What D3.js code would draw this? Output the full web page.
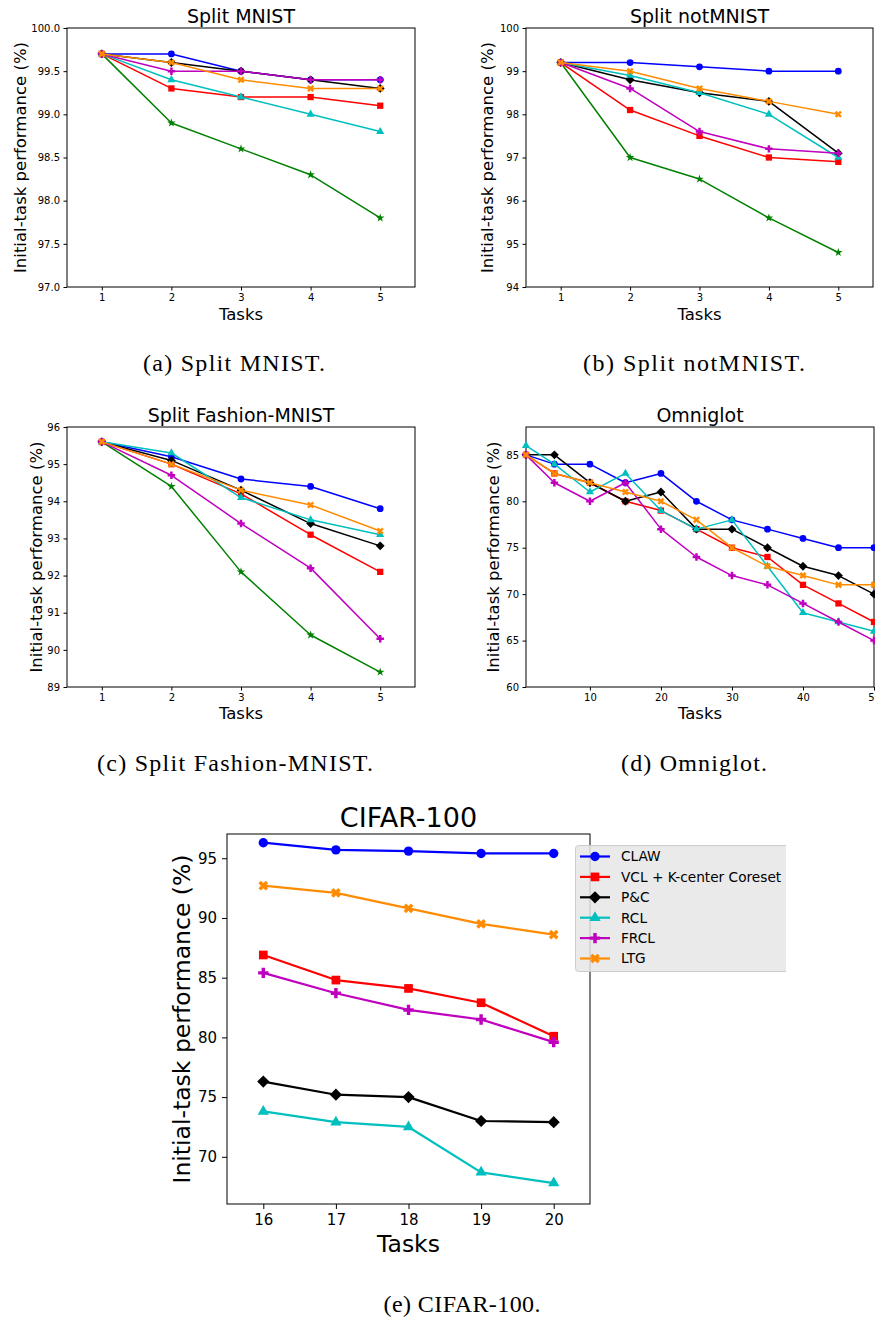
<!DOCTYPE html>
<html>
<head>
<meta charset="utf-8">
<script src="https://cdn.jsdelivr.net/npm/d3@7"></script>
<style>
  body { margin: 0; background: #fff; }
  svg { display: block; }
  text { font-family: "DejaVu Sans", sans-serif; fill: #000; }
  .caption { font-family: "Liberation Serif", serif; }
</style>
</head>
<body>
<svg id="chart" width="875" height="1321"></svg>
<script>
// ---- data ----
const fiveTasks = [1, 2, 3, 4, 5]
const omniglotTasks = [1, 5, 10, 15, 20, 25, 30, 35, 40, 45, 50]
const cifarTasks = [16, 17, 18, 19, 20]

const methodNames = ['CLAW', 'VCL + K-center Coreset', 'P&C', 'RCL', 'FRCL', 'LTG']

// Split MNIST
const mnistGreen = [99.7, 98.9, 98.6, 98.3, 97.8]
const mnistClaw = [99.7, 99.7, 99.5, 99.4, 99.4]
const mnistVcl = [99.7, 99.3, 99.2, 99.2, 99.1]
const mnistPnc = [99.7, 99.6, 99.5, 99.4, 99.3]
const mnistRcl = [99.7, 99.4, 99.2, 99.0, 98.8]
const mnistFrcl = [99.7, 99.5, 99.5, 99.4, 99.4]
const mnistLtg = [99.7, 99.6, 99.4, 99.3, 99.3]

// Split notMNIST
const notmnistGreen = [99.2, 97.0, 96.5, 95.6, 94.8]
const notmnistClaw = [99.2, 99.2, 99.1, 99.0, 99.0]
const notmnistVcl = [99.2, 98.1, 97.5, 97.0, 96.9]
const notmnistPnc = [99.2, 98.8, 98.5, 98.3, 97.1]
const notmnistRcl = [99.2, 98.9, 98.5, 98.0, 97.0]
const notmnistFrcl = [99.2, 98.6, 97.6, 97.2, 97.1]
const notmnistLtg = [99.2, 99.0, 98.6, 98.3, 98.0]

// Split Fashion-MNIST
const fashionGreen = [95.6, 94.4, 92.1, 90.4, 89.4]
const fashionClaw = [95.6, 95.2, 94.6, 94.4, 93.8]
const fashionVcl = [95.6, 95.0, 94.2, 93.1, 92.1]
const fashionPnc = [95.6, 95.1, 94.3, 93.4, 92.8]
const fashionRcl = [95.6, 95.3, 94.1, 93.5, 93.1]
const fashionFrcl = [95.6, 94.7, 93.4, 92.2, 90.3]
const fashionLtg = [95.6, 95.0, 94.3, 93.9, 93.2]

// Omniglot
const omniClaw = [85, 84, 84, 82, 83, 80, 78, 77, 76, 75, 75]
const omniVcl = [85, 83, 82, 80, 79, 77, 75, 74, 71, 69, 67]
const omniPnc = [85, 85, 82, 80, 81, 77, 77, 75, 73, 72, 70]
const omniRcl = [86, 84, 81, 83, 79, 77, 78, 73, 68, 67, 66]
const omniFrcl = [85, 82, 80, 82, 77, 74, 72, 71, 69, 67, 65]
const omniLtg = [85, 83, 82, 81, 80, 78, 75, 73, 72, 71, 71]

// CIFAR-100
const cifarClaw = [96.3, 95.7, 95.6, 95.4, 95.4]
const cifarVcl = [86.9, 84.8, 84.1, 82.9, 80.1]
const cifarPnc = [76.3, 75.2, 75.0, 73.0, 72.9]
const cifarRcl = [73.8, 72.9, 72.5, 68.7, 67.8]
const cifarFrcl = [85.4, 83.7, 82.3, 81.5, 79.6]
const cifarLtg = [92.7, 92.1, 90.8, 89.5, 88.6]

// tick labels
const mnistYTicks = [97.0, 97.5, 98.0, 98.5, 99.0, 99.5, 100.0]
const notmnistYTicks = [94, 95, 96, 97, 98, 99, 100]
const fashionYTicks = [89, 90, 91, 92, 93, 94, 95, 96]
const omniXTicks = [10, 20, 30, 40, 50]
const omniYTicks = [60, 65, 70, 75, 80, 85]
const cifarYTicks = [70, 75, 80, 85, 90, 95]

// ---- styles ----
const styles = {
  green: { color: '#008000', marker: 'star' },
  claw: { color: '#0000ff', marker: 'circle' },
  vcl: { color: '#ff0000', marker: 'square' },
  pnc: { color: '#000000', marker: 'diamond' },
  rcl: { color: '#00bfbf', marker: 'triangle' },
  frcl: { color: '#bf00bf', marker: 'plus' },
  ltg: { color: '#ff8c00', marker: 'x' },
}
const legendKeys = ['claw', 'vcl', 'pnc', 'rcl', 'frcl', 'ltg']

const svg = d3.select('#chart')

function markerPath(type, r) {
  if (type === 'diamond') {
    const a = r * 1.3
    return `M0,${-a}L${a},0L0,${a}L${-a},0Z`
  }
  const sym = d3.symbol()
  if (type === 'circle') sym.type(d3.symbolCircle).size(Math.PI * r * r)
  if (type === 'square') sym.type(d3.symbolSquare).size(Math.pow(r * 1.85, 2))
  if (type === 'triangle') sym.type(d3.symbolTriangle).size(0.433 * Math.pow(r * 2.4, 2))
  if (type === 'plus' || type === 'x') sym.type(d3.symbolCross).size(5 * Math.pow(r * 2.2 / 3, 2))
  if (type === 'star') sym.type(d3.symbolStar).size(r * r * 2.2)
  return sym()
}

function drawPanel(p) {
  const x = d3.scaleLinear().domain(p.xDomain).range([p.left, p.right])
  const y = d3.scaleLinear().domain(p.yDomain).range([p.bottom, p.top])
  const g = svg.append('g')

  // frame
  g.append('rect')
    .attr('x', p.left).attr('y', p.top)
    .attr('width', p.right - p.left).attr('height', p.bottom - p.top)
    .attr('fill', 'none').attr('stroke', '#000').attr('stroke-width', 1)

  const xAxis = d3.axisBottom(x).tickValues(p.xTicks).tickFormat(d3.format('d'))
    .tickSizeInner(p.tick).tickSizeOuter(0).tickPadding(p.pad)
  const yAxis = d3.axisLeft(y).tickValues(p.yTicks).tickFormat(d3.format(p.yFormat))
    .tickSizeInner(p.tick).tickSizeOuter(0).tickPadding(p.pad)

  const xg = g.append('g').attr('transform', `translate(0,${p.bottom})`).call(xAxis)
  const yg = g.append('g').attr('transform', `translate(${p.left},0)`).call(yAxis)
  ;[xg, yg].forEach(a => {
    a.select('.domain').remove()
    a.selectAll('line').attr('stroke', '#000')
    a.selectAll('text').style('font-size', p.tickFont + 'px').attr('fill', '#000')
      .style('font-family', '"DejaVu Sans", sans-serif')
  })

  // series: line then markers, one series at a time
  p.series.forEach(s => {
    const st = styles[s.key]
    const pts = p.tasks.map((t, i) => [t, s.values[i]])
    g.append('path')
      .attr('d', d3.line().x(d => x(d[0])).y(d => y(d[1]))(pts))
      .attr('fill', 'none').attr('stroke', st.color)
      .attr('stroke-width', p.lw).attr('stroke-linejoin', 'round')
    const r = st.marker === 'star' ? p.ms * 0.95 : p.ms
    g.selectAll(null).data(pts).enter().append('path')
      .attr('transform', d => `translate(${x(d[0])},${y(d[1])})` + (st.marker === 'x' ? ' rotate(45)' : ''))
      .attr('d', markerPath(st.marker, r))
      .attr('fill', st.color)
  })

  // texts
  const cx = (p.left + p.right) / 2
  g.append('text').attr('x', cx).attr('y', p.titleY)
    .attr('text-anchor', 'middle').style('font-size', p.titleFont + 'px').text(p.title)
  g.append('text').attr('x', cx).attr('y', p.xlabelY)
    .attr('text-anchor', 'middle').style('font-size', p.labelFont + 'px').text('Tasks')
  g.append('text')
    .attr('transform', `translate(${p.ylabelX},${(p.top + p.bottom) / 2}) rotate(-90)`)
    .attr('text-anchor', 'middle').style('font-size', p.labelFont + 'px')
    .text('Initial-task performance (%)')

  return { x, y, g }
}

const small = { tick: 3.5, pad: 3.5, tickFont: 10, titleFont: 19, labelFont: 16.5, lw: 1.5, ms: 3.4 }

drawPanel({
  ...small, left: 67, right: 415, top: 28, bottom: 287,
  xDomain: [0.5, 5.5], yDomain: [97, 100], xTicks: fiveTasks, yTicks: mnistYTicks, yFormat: '.1f',
  title: 'Split MNIST', titleY: 23, xlabelY: 320, ylabelX: 25.5,
  tasks: fiveTasks,
  series: [
    { key: 'green', values: mnistGreen }, { key: 'claw', values: mnistClaw },
    { key: 'vcl', values: mnistVcl }, { key: 'pnc', values: mnistPnc },
    { key: 'rcl', values: mnistRcl }, { key: 'frcl', values: mnistFrcl },
    { key: 'ltg', values: mnistLtg },
  ],
})

drawPanel({
  ...small, left: 526, right: 873, top: 28, bottom: 287,
  xDomain: [0.5, 5.5], yDomain: [94, 100], xTicks: fiveTasks, yTicks: notmnistYTicks, yFormat: 'd',
  title: 'Split notMNIST', titleY: 23, xlabelY: 320, ylabelX: 493,
  tasks: fiveTasks,
  series: [
    { key: 'green', values: notmnistGreen }, { key: 'claw', values: notmnistClaw },
    { key: 'vcl', values: notmnistVcl }, { key: 'pnc', values: notmnistPnc },
    { key: 'rcl', values: notmnistRcl }, { key: 'frcl', values: notmnistFrcl },
    { key: 'ltg', values: notmnistLtg },
  ],
})

drawPanel({
  ...small, left: 67, right: 415, top: 427, bottom: 687,
  xDomain: [0.5, 5.5], yDomain: [89, 96], xTicks: fiveTasks, yTicks: fashionYTicks, yFormat: 'd',
  title: 'Split Fashion-MNIST', titleY: 422, xlabelY: 719, ylabelX: 41.5,
  tasks: fiveTasks,
  series: [
    { key: 'green', values: fashionGreen }, { key: 'claw', values: fashionClaw },
    { key: 'vcl', values: fashionVcl }, { key: 'pnc', values: fashionPnc },
    { key: 'rcl', values: fashionRcl }, { key: 'frcl', values: fashionFrcl },
    { key: 'ltg', values: fashionLtg },
  ],
})

drawPanel({
  ...small, left: 526, right: 874, top: 427, bottom: 687,
  xDomain: [1, 50], yDomain: [60, 88], xTicks: omniXTicks, yTicks: omniYTicks, yFormat: 'd',
  title: 'Omniglot', titleY: 422, xlabelY: 719, ylabelX: 499,
  tasks: omniglotTasks,
  series: [
    { key: 'claw', values: omniClaw }, { key: 'vcl', values: omniVcl },
    { key: 'pnc', values: omniPnc }, { key: 'rcl', values: omniRcl },
    { key: 'frcl', values: omniFrcl }, { key: 'ltg', values: omniLtg },
  ],
})

const cifar = drawPanel({
  tick: 5, pad: 5, tickFont: 15, titleFont: 27, labelFont: 23.5, lw: 2.2, ms: 4.7,
  left: 227, right: 590, top: 834, bottom: 1204,
  xDomain: [15.5, 20.5], yDomain: [66.05, 97.03], xTicks: cifarTasks, yTicks: cifarYTicks, yFormat: 'd',
  title: 'CIFAR-100', titleY: 827, xlabelY: 1252, ylabelX: 190,
  tasks: cifarTasks,
  series: [
    { key: 'claw', values: cifarClaw }, { key: 'vcl', values: cifarVcl },
    { key: 'pnc', values: cifarPnc }, { key: 'rcl', values: cifarRcl },
    { key: 'frcl', values: cifarFrcl }, { key: 'ltg', values: cifarLtg },
  ],
})

// legend (cut off on the right in the original)
svg.append('clipPath').attr('id', 'legclip')
  .append('rect').attr('x', 560).attr('y', 830).attr('width', 226).attr('height', 160)
const leg = svg.append('g').attr('clip-path', 'url(#legclip)')
leg.append('rect').attr('x', 575.5).attr('y', 845.5).attr('width', 230).attr('height', 126)
  .attr('rx', 3).attr('fill', '#e6e6e6').attr('fill-opacity', 0.85)
  .attr('stroke', '#cccccc').attr('stroke-width', 1)
legendKeys.forEach((k, i) => {
  const st = styles[k]
  const yy = 856.5 + i * 20.4
  leg.append('line').attr('x1', 580).attr('x2', 610).attr('y1', yy).attr('y2', yy)
    .attr('stroke', st.color).attr('stroke-width', 2.2)
  leg.append('path')
    .attr('transform', `translate(595,${yy})` + (st.marker === 'x' ? ' rotate(45)' : ''))
    .attr('d', markerPath(st.marker, 4.7)).attr('fill', st.color)
  leg.append('text').attr('x', 621).attr('y', yy).attr('dy', '0.36em')
    .style('font-size', '13.7px').text(methodNames[i])
})

// captions
const captions = [
  { text: '(a) Split MNIST.', x: 234, y: 371, w: 182 },
  { text: '(b) Split notMNIST.', x: 694, y: 371, w: 222 },
  { text: '(c) Split Fashion-MNIST.', x: 235, y: 771, w: 276 },
  { text: '(d) Omniglot.', x: 694, y: 771, w: 146 },
  { text: '(e) CIFAR-100.', x: 462, y: 1312, w: 157 },
]
captions.forEach(c => {
  svg.append('text').attr('class', 'caption')
    .attr('x', c.x).attr('y', c.y).attr('text-anchor', 'middle')
    .attr('textLength', c.w).attr('lengthAdjust', 'spacing')
    .style('font-size', '24px').text(c.text)
})
</script>
